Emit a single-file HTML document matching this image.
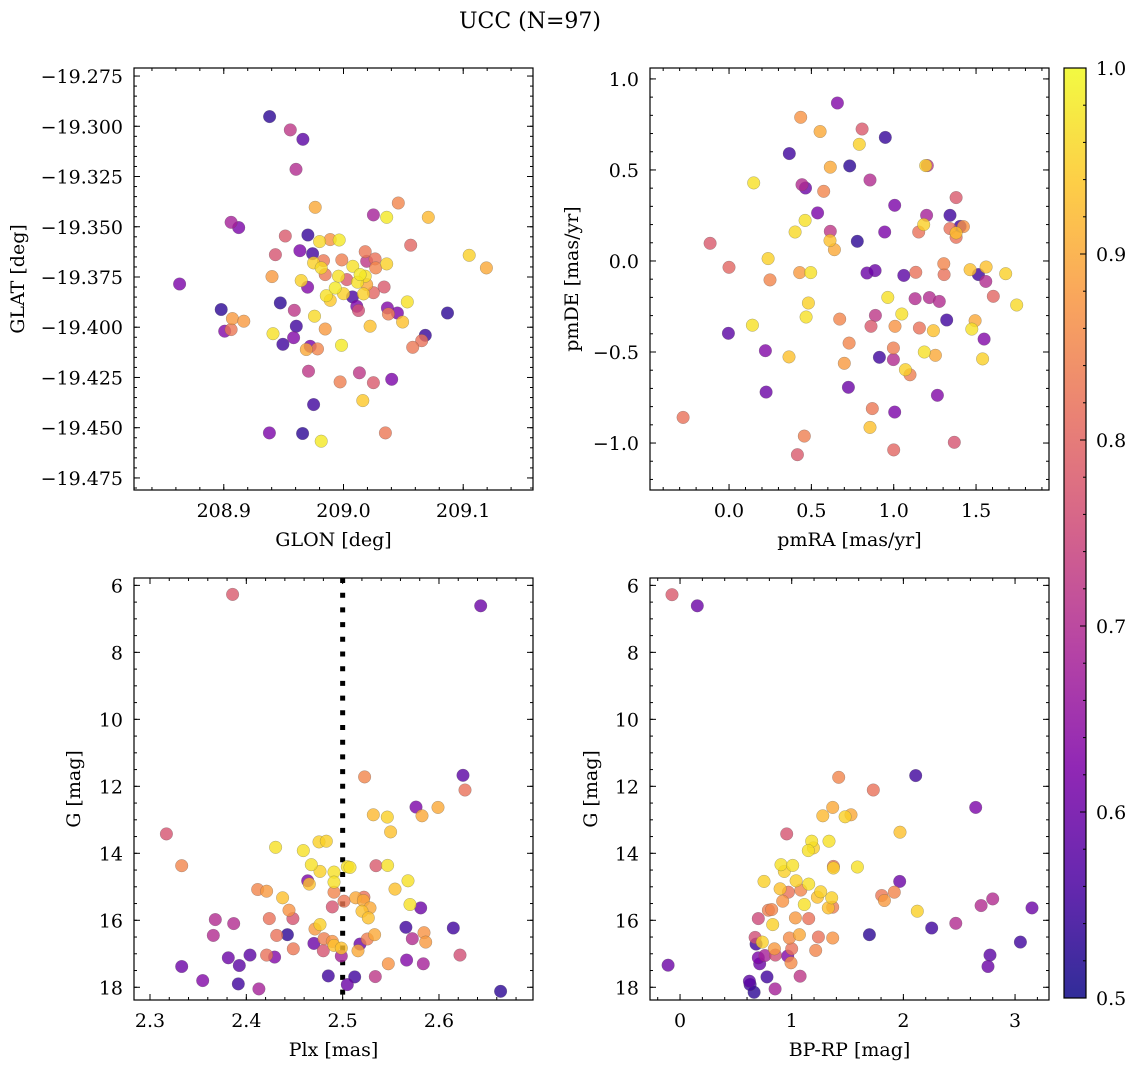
<!DOCTYPE html>
<html><head><meta charset="utf-8"><style>
html,body{margin:0;padding:0;background:#fff;}
svg{display:block;font-family:"DejaVu Serif","Liberation Serif",serif;}
</style></head><body>
<svg id="fig" width="1136" height="1067" viewBox="0 0 1136 1067" xmlns="http://www.w3.org/2000/svg">
<defs><linearGradient id="plasma" x1="0" y1="1" x2="0" y2="0">
<stop offset="0" stop-color="#0d0887"/><stop offset="0.125" stop-color="#4c02a1"/><stop offset="0.25" stop-color="#7e03a8"/><stop offset="0.375" stop-color="#a92395"/><stop offset="0.5" stop-color="#cc4778"/><stop offset="0.625" stop-color="#e66c5c"/><stop offset="0.75" stop-color="#f89540"/><stop offset="0.875" stop-color="#fdc527"/><stop offset="1" stop-color="#f0f921"/>
</linearGradient></defs>
<text x="530" y="28" font-size="22" text-anchor="middle">UCC (N=97)</text>
</svg>
<script>
// ---- Panel 1: GLON vs GLAT ----
const glon=[208.9383,208.9556,208.9661,208.9603,208.9764,209.0458,209.025,209.0361,209.0708,208.9061,208.9125,208.9514,208.9703,208.980,208.9889,208.9964,209.0561,208.9636,208.9742,208.9431,209.0181,209.105,209.1194,208.975,208.9833,208.9986,209.0194,209.0264,209.0361,209.0078,208.9814,209.0269,208.9847,208.9958,209.0139,209.0181,208.8631,208.9403,208.9647,209.0028,209.0117,208.970,208.9931,209.0194,209.0339,208.9856,209.000,209.0167,209.025,208.9889,209.0075,208.8978,208.9472,209.0111,209.0125,209.0533,209.0367,209.0869,208.9589,209.045,209.0375,208.9758,208.9072,208.9167,209.0494,208.9606,208.9847,209.0222,208.9008,208.9061,208.9411,208.9583,209.0683,208.9494,209.0653,209.0578,208.9722,208.9689,208.9783,208.9983,208.9708,209.0133,208.9972,209.025,209.0403,209.0161,208.975,208.9381,208.9658,209.035,208.9814];
const glat=[-19.2952,-19.3018,-19.3065,-19.3214,-19.3403,-19.3382,-19.3441,-19.3453,-19.3453,-19.3478,-19.3504,-19.3546,-19.3541,-19.3574,-19.3564,-19.3566,-19.3592,-19.3619,-19.3634,-19.3639,-19.3624,-19.3642,-19.3705,-19.368,-19.3669,-19.3665,-19.3672,-19.366,-19.3685,-19.3697,-19.3705,-19.3705,-19.3738,-19.3746,-19.3738,-19.3746,-19.3785,-19.3748,-19.3768,-19.3763,-19.3776,-19.3801,-19.3805,-19.3788,-19.38,-19.3843,-19.3833,-19.3834,-19.3828,-19.3866,-19.3849,-19.3912,-19.3879,-19.3896,-19.3917,-19.3874,-19.3904,-19.3929,-19.3916,-19.3929,-19.3934,-19.3945,-19.3957,-19.397,-19.3974,-19.3995,-19.4009,-19.3995,-19.402,-19.4012,-19.4032,-19.4052,-19.404,-19.4085,-19.4067,-19.41,-19.4095,-19.4111,-19.4108,-19.409,-19.4219,-19.4227,-19.4272,-19.4276,-19.4259,-19.4365,-19.4385,-19.4526,-19.4529,-19.4526,-19.4567];
const prob1=[.53,.72,.58,.7,.9,.85,.68,.98,.92,.68,.62,.78,.54,.96,.87,.98,.8,.62,.55,.77,.83,.95,.9,.95,.83,.84,.72,.82,.95,.97,.96,.85,.83,.97,.98,.97,.62,.88,.95,.78,.97,.63,.98,.9,.78,.97,.95,.95,.8,.94,.56,.53,.53,.62,.76,.97,.63,.53,.72,.62,.84,.96,.88,.88,.93,.55,.88,.93,.63,.83,.97,.63,.54,.55,.82,.83,.62,.9,.85,.98,.72,.72,.84,.78,.62,.94,.55,.62,.53,.83,.98];
// ---- Panel 2: pmRA vs pmDE ----
const pmra=[.658,.435,.553,.808,.949,.791,.366,.615,.733,1.204,1.194,.150,.443,.464,.856,.575,1.379,1.006,.538,1.200,1.342,.462,1.182,.401,.615,.945,1.152,1.342,1.403,1.423,1.379,1.379,-.115,.613,.640,.779,.237,0.0,.249,.429,.496,.838,.887,1.061,1.134,1.304,1.306,1.464,1.514,1.561,1.559,1.680,1.605,.964,1.130,1.217,1.277,1.747,.482,.468,.889,1.049,.672,.862,1.008,1.156,1.241,1.322,1.494,1.474,.142,-.004,.729,1.549,.221,.364,.913,.998,.998,1.186,1.253,1.540,.700,1.071,1.099,.225,.725,1.265,.870,1.006,-.279,.856,.457,1.368,.415,1.0];
const pmde=[.868,.789,.711,.725,.679,.641,.590,.515,.522,.524,.524,.429,.419,.401,.445,.383,.348,.306,.264,.251,.251,.223,.200,.159,.163,.159,.159,.178,.190,.189,.154,.130,.097,.112,.062,.108,.013,-.035,-.104,-.064,-.064,-.066,-.053,-.079,-.062,-.015,-.075,-.048,-.075,-.033,-.112,-.070,-.194,-.200,-.207,-.201,-.222,-.242,-.231,-.308,-.299,-.291,-.319,-.359,-.359,-.368,-.383,-.324,-.328,-.374,-.353,-.397,-.451,-.429,-.493,-.527,-.529,-.478,-.542,-.5,-.518,-.538,-.562,-.597,-.625,-.720,-.694,-.738,-.811,-.830,-.859,-.914,-.962,-.996,-1.064,-1.038];
const prob2=[.63,.87,.9,.78,.54,.95,.55,.9,.53,.72,.95,.97,.7,.6,.7,.85,.78,.62,.62,.68,.55,.97,.95,.96,.72,.62,.82,.82,.55,.87,.93,.82,.78,.93,.9,.53,.95,.8,.85,.88,.97,.6,.6,.58,.82,.85,.82,.93,.55,.93,.7,.95,.8,.97,.7,.7,.7,.96,.95,.97,.72,.97,.85,.78,.87,.82,.93,.55,.9,.97,.97,.58,.85,.63,.63,.93,.55,.84,.7,.97,.9,.95,.88,.95,.84,.6,.6,.63,.83,.62,.82,.93,.84,.77,.78,.8];
// ---- Panel 3: Plx vs G ----
const plx=[2.3858,2.6433,2.5228,2.6249,2.627,2.5761,2.599,2.5318,2.5464,2.5824,2.5498,2.317,2.4304,2.4592,2.4754,2.4830,2.3329,2.4675,2.4765,2.491,2.5048,2.5076,2.5346,2.5467,2.4637,2.4654,2.491,2.5678,2.4118,2.4211,2.4377,2.491,2.5543,2.5014,2.5135,2.5221,2.5215,2.5284,2.4893,2.5699,2.581,2.4443,2.5201,2.5266,2.3678,2.3869,2.4239,2.4484,2.4765,2.4713,2.5657,2.6149,2.3657,2.4315,2.4426,2.5844,2.5332,2.5256,2.5723,2.5862,2.4702,2.4806,2.4893,2.491,2.4799,2.4986,2.4488,2.5159,2.518,2.3813,2.4038,2.4211,2.4294,2.4986,2.6218,2.3329,2.3927,2.5474,2.5664,2.5837,2.3547,2.3917,2.4131,2.4851,2.5125,2.5339,2.5048,2.664];
const gmag3=[6.27,6.61,11.72,11.67,12.11,12.62,12.63,12.85,12.92,12.88,13.36,13.42,13.82,13.92,13.66,13.64,14.37,14.34,14.54,14.56,14.40,14.42,14.37,14.36,14.82,14.92,14.86,14.82,15.08,15.13,15.33,15.16,15.07,15.43,15.33,15.31,15.41,15.63,15.60,15.53,15.63,15.70,15.73,15.93,15.98,16.10,15.95,15.95,16.13,16.26,16.21,16.23,16.45,16.45,16.43,16.37,16.43,16.56,16.55,16.65,16.69,16.55,16.63,16.75,16.91,16.83,16.85,16.91,16.71,17.12,17.04,17.04,17.10,17.07,17.04,17.38,17.35,17.30,17.19,17.30,17.80,17.90,18.05,17.66,17.69,17.68,17.92,18.12];
const prob3=[.78,.6,.85,.58,.82,.62,.9,.92,.95,.9,.93,.77,.97,.97,.95,.95,.85,.97,.95,.97,.97,.97,.78,.97,.62,.93,.97,.97,.85,.88,.93,.85,.93,.83,.9,.82,.9,.9,.77,.97,.6,.87,.93,.93,.7,.7,.82,.77,.95,.88,.55,.55,.7,.82,.53,.87,.9,.84,.7,.88,.6,.84,.87,.93,.77,.93,.83,.9,.6,.6,.58,.82,.63,.68,.76,.6,.58,.87,.63,.68,.63,.55,.68,.55,.55,.72,.6,.53];
const plxMedian=[2.5];
// ---- Panel 4: BP-RP vs G ----
const bprp=[-0.072,.155,1.421,2.110,1.731,2.648,1.367,1.278,1.478,1.531,1.970,.955,1.179,1.334,1.149,1.194,.904,1.009,.934,1.373,1.373,1.588,.752,1.967,1.039,1.152,.896,.970,1.081,1.260,1.230,1.358,1.806,1.919,1.830,.919,1.113,1.328,1.367,.791,.821,2.125,2.800,2.696,3.152,.701,1.033,1.152,.830,2.469,2.254,1.696,1.069,1.239,1.367,.672,.681,.737,.979,.845,1.0,1.215,3.048,.701,.761,.854,.964,.994,2.776,.713,2.758,-.107,.779,1.075,.621,.627,.851,.663];
const gmag4=[6.28,6.61,11.73,11.68,12.11,12.63,12.63,12.88,12.91,12.85,13.37,13.42,13.64,13.64,13.92,13.84,14.34,14.36,14.54,14.39,14.44,14.41,14.84,14.84,14.82,14.92,15.06,15.16,15.10,15.15,15.31,15.33,15.26,15.16,15.41,15.43,15.53,15.63,15.61,15.70,15.68,15.73,15.36,15.56,15.63,15.95,15.93,15.95,16.13,16.09,16.23,16.43,16.43,16.50,16.53,16.51,16.71,16.65,16.53,16.85,16.85,16.90,16.65,17.12,17.05,17.04,17.07,17.27,17.04,17.30,17.38,17.34,17.69,17.67,17.82,17.92,18.05,18.15];
const prob4=[.78,.6,.85,.55,.82,.62,.9,.92,.95,.9,.93,.77,.97,.97,.97,.95,.97,.97,.95,.83,.95,.97,.95,.6,.95,.97,.93,.82,.85,.95,.93,.95,.83,.85,.88,.87,.97,.93,.84,.84,.85,.95,.7,.7,.6,.75,.88,.82,.95,.7,.55,.53,.9,.82,.87,.76,.55,.95,.86,.88,.82,.85,.55,.62,.68,.76,.63,.86,.58,.6,.6,.6,.55,.72,.58,.55,.68,.53];
// ---- Tick labels ----
const p1xTicks=[208.9,209.0,209.1];
const p1yTicks=[-19.275,-19.300,-19.325,-19.350,-19.375,-19.400,-19.425,-19.450,-19.475];
const p2xTicks=[0.0,0.5,1.0,1.5];
const p2yTicks=[1.0,0.5,0.0,-0.5,-1.0];
const p3xTicks=[2.3,2.4,2.5,2.6];
const gTicks=[6,8,10,12,14,16,18];
const p4xTicks=[0,1,2,3];
const cbTicks=[0.5,0.6,0.7,0.8,0.9,1.0];

const FS=19;
const NS='http://www.w3.org/2000/svg';
const svg=document.getElementById('fig');
function mk(tag,attrs,parent){const e=document.createElementNS(NS,tag);for(const k in attrs)e.setAttribute(k,attrs[k]);(parent||svg).appendChild(e);return e;}
const stops=[[0,[13,8,135]],[.125,[76,2,161]],[.25,[126,3,168]],[.375,[169,35,149]],[.5,[204,71,120]],[.625,[230,108,92]],[.75,[248,149,64]],[.875,[253,197,39]],[1,[240,249,33]]];
function plasma(v){let t=Math.max(0,Math.min(1,(v-0.5)/0.5));for(let i=1;i<stops.length;i++){if(t<=stops[i][0]){const a=stops[i-1],b=stops[i];const f=(t-a[0])/(b[0]-a[0]);const c=a[1].map((x,j)=>Math.round(x+(b[1][j]-x)*f));return 'rgb('+c.join(',')+')';}}return 'rgb(240,249,33)';}
function fmt(v,d){const s=Math.abs(v).toFixed(d);return (v<0?'\u2212':'')+s;}

function panel(cfg){
  const g=mk('g',{});
  
  
  const L=cfg.box[0],T=cfg.box[1],R=cfg.box[2],B=cfg.box[3];
  const sx=v=>L+(v-cfg.xlim[0])/(cfg.xlim[1]-cfg.xlim[0])*(R-L);
  const sy=v=>T+(v-cfg.ylim[0])/(cfg.ylim[1]-cfg.ylim[0])*(B-T);
  const cp=mk('clipPath',{id:'clip-'+cfg.name},g);
  mk('rect',{x:L,y:T,width:R-L,height:B-T},cp);
  const pg=mk('g',{'clip-path':'url(#clip-'+cfg.name+')'},g);
  if(cfg.vline){cfg.vline.forEach(v=>{const l=mk('line',{x1:sx(v),x2:sx(v),y1:T,y2:B,stroke:'#000','stroke-width':5,'stroke-dasharray':'5 9.7'},pg);
    
    });}
  const idx=cfg.xs.map((_,i)=>i).sort((a,b)=>cfg.c[a]-cfg.c[b]);
  idx.forEach(i=>{const c=mk('circle',{cx:sx(cfg.xs[i]).toFixed(1),cy:sy(cfg.ys[i]).toFixed(1),r:6.3,fill:plasma(cfg.c[i]),'fill-opacity':0.8,stroke:'#555','stroke-opacity':0.6,'stroke-width':0.4},pg);
    
    });
  const fr=mk('rect',{x:L,y:T,width:R-L,height:B-T,fill:'none',stroke:'#000','stroke-width':1.2},g);
  
  
  function minors(lim,step){const a=Math.min(lim[0],lim[1]),b=Math.max(lim[0],lim[1]);const out=[];let s=Math.ceil(a/step-1e-6)*step;for(let v=s;v<=b+1e-9;v+=step)out.push(v);return out;}
  minors(cfg.xlim,cfg.xminor).forEach(v=>{const x=sx(v);mk('line',{x1:x,x2:x,y1:B,y2:B-3,stroke:'#000','stroke-width':1},g);mk('line',{x1:x,x2:x,y1:T,y2:T+3,stroke:'#000','stroke-width':1},g);});
  minors(cfg.ylim,cfg.yminor).forEach(v=>{const y=sy(v);mk('line',{x1:L,x2:L+3,y1:y,y2:y,stroke:'#000','stroke-width':1},g);mk('line',{x1:R,x2:R-3,y1:y,y2:y,stroke:'#000','stroke-width':1},g);});
  cfg.xt.forEach(v=>{const x=sx(v);mk('line',{x1:x,x2:x,y1:B,y2:B-6,stroke:'#000','stroke-width':1},g);mk('line',{x1:x,x2:x,y1:T,y2:T+6,stroke:'#000','stroke-width':1},g);
    const t=mk('text',{x:x,y:B+27,'font-size':FS,'text-anchor':'middle'},g);t.textContent=fmt(v,cfg.xd);
    
    });
  cfg.yt.forEach(v=>{const y=sy(v);mk('line',{x1:L,x2:L+6,y1:y,y2:y,stroke:'#000','stroke-width':1},g);mk('line',{x1:R,x2:R-6,y1:y,y2:y,stroke:'#000','stroke-width':1},g);
    const t=mk('text',{x:L-11,y:y+7,'font-size':FS,'text-anchor':'end'},g);t.textContent=fmt(v,cfg.yd);
    
    });
  const xl=mk('text',{x:(L+R)/2,y:B+56,'font-size':FS,'text-anchor':'middle'},g);xl.textContent=cfg.xlabel;
  
  
  const yl=mk('text',{x:cfg.ylx,y:(T+B)/2,'font-size':FS,'text-anchor':'middle',transform:'rotate(-90 '+cfg.ylx+' '+(T+B)/2+')'},g);yl.textContent=cfg.ylabel;
  
  
}
panel({name:'panel-glon-glat',box:[134,68,533,490],xlim:[208.825,209.1583],ylim:[-19.271,-19.481],xs:glon,ys:glat,c:prob1,xt:p1xTicks,yt:p1yTicks,xd:1,yd:3,xminor:0.02,yminor:0.005,xlabel:'GLON [deg]',ylabel:'GLAT [deg]',ylx:24});
panel({name:'panel-pmra-pmde',box:[650,68,1049,490],xlim:[-0.48,1.943],ylim:[1.06,-1.258],xs:pmra,ys:pmde,c:prob2,xt:p2xTicks,yt:p2yTicks,xd:1,yd:1,xminor:0.1,yminor:0.1,xlabel:'pmRA [mas/yr]',ylabel:'pmDE [mas/yr]',ylx:578});
panel({name:'panel-plx-g',box:[134,578,533,1000],xlim:[2.2834,2.6976],ylim:[5.78,18.38],xs:plx,ys:gmag3,c:prob3,xt:p3xTicks,yt:gTicks,xd:1,yd:0,xminor:0.02,yminor:0.5,xlabel:'Plx [mas]',ylabel:'G [mag]',ylx:80,vline:plxMedian});
panel({name:'panel-bprp-g',box:[650,578,1049,1000],xlim:[-0.269,3.304],ylim:[5.78,18.38],xs:bprp,ys:gmag4,c:prob4,xt:p4xTicks,yt:gTicks,xd:0,yd:0,xminor:0.2,yminor:0.5,xlabel:'BP-RP [mag]',ylabel:'G [mag]',ylx:597});

// colorbar
(function(){
  const L=1064,R=1086,T=68,B=998;
  const cy=v=>B-(v-0.5)/0.5*(B-T);
  const g=mk('g',{});
  
  
  mk('rect',{x:L,y:T,width:R-L,height:B-T,fill:'url(#plasma)','fill-opacity':0.85,stroke:'#000','stroke-width':1.2},g);
  for(let v=0.5;v<=1.0001;v+=0.02){mk('line',{x1:R,x2:R-3,y1:cy(v),y2:cy(v),stroke:'#000','stroke-width':1},g);}
  cbTicks.forEach(v=>{mk('line',{x1:R,x2:R-6,y1:cy(v),y2:cy(v),stroke:'#000','stroke-width':1},g);
    const t=mk('text',{x:R+10,y:cy(v)+7,'font-size':FS},g);t.textContent=v.toFixed(1);
    
    });
})();
</script>
</body></html>
